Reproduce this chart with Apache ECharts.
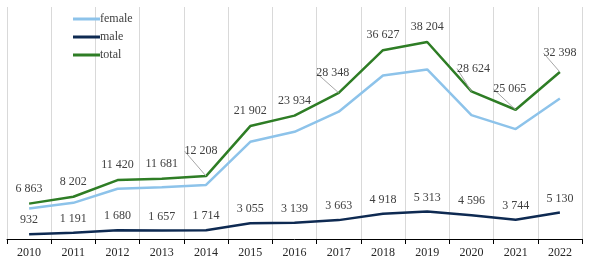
<!DOCTYPE html>
<html>
<head>
<meta charset="utf-8">
<script src="https://cdn.jsdelivr.net/npm/echarts@6/dist/echarts.min.js"></script>
<style>
  html, body { margin: 0; padding: 0; background: #ffffff; }
  #chart { width: 589px; height: 267px; }
</style>
</head>
<body>
<div id="chart"></div>
<script>
const years = ["2010", "2011", "2012", "2013", "2014", "2015", "2016", "2017", "2018", "2019", "2020", "2021", "2022"];
const female = [5931, 7011, 9740, 10024, 10494, 18847, 20795, 24685, 31709, 32891, 24028, 21321, 27268];
const male = [932, 1191, 1680, 1657, 1714, 3055, 3139, 3663, 4918, 5313, 4596, 3744, 5130];
const total = [6863, 8202, 11420, 11681, 12208, 21902, 23934, 28348, 36627, 38204, 28624, 25065, 32398];

// total labels pushed away from their point, drawn with a leader line: [dx, dy]
const totalShift = { 4: [-5, -10], 7: [-6, -5], 10: [2, -8], 11: [-6, -6], 12: [0, -4] };

const fmt = v => String(v).replace(/\B(?=(\d{3})+(?!\d))/g, " ");
const font = "'Liberation Serif', 'DejaVu Serif', serif";

const totalData = total.map((v, i) => (totalShift[i]
  ? { value: v, labelLine: { show: true } }
  : { value: v }));

const chart = echarts.init(document.getElementById("chart"));

chart.setOption({
  animation: false,
  textStyle: { fontFamily: font },
  legend: {
    orient: "vertical",
    left: 68,
    top: 8,
    itemWidth: 27,
    itemHeight: 3,
    itemGap: 6,
    icon: "rect",
    textStyle: { color: "#404040", fontSize: 12, fontFamily: font, padding: [0, 0, 0, -5] },
    data: ["female", "male", "total"]
  },
  grid: { left: 7, right: 7, top: 7, bottom: 28 },
  xAxis: {
    type: "category",
    data: years,
    boundaryGap: true,
    axisLine: { lineStyle: { color: "#000", width: 1 } },
    axisTick: { show: true, length: 5, lineStyle: { color: "#000" } },
    axisLabel: { color: "#262626", fontSize: 12, fontFamily: font, margin: 8 },
    splitLine: { show: true, lineStyle: { color: "#d9d9d9", width: 1 } }
  },
  yAxis: {
    type: "value",
    min: 0,
    max: 45000,
    show: false,
    splitLine: { show: false }
  },
  series: [
    {
      name: "female",
      type: "line",
      data: female,
      symbol: "none",
      lineStyle: { color: "#8dc3ea", width: 2.5 },
      itemStyle: { color: "#8dc3ea" }
    },
    {
      name: "male",
      type: "line",
      data: male,
      symbol: "circle",
      symbolSize: 0,
      showSymbol: true,
      lineStyle: { color: "#0e2a52", width: 2.5 },
      itemStyle: { color: "#0e2a52" },
      label: {
        show: true,
        position: "top",
        distance: 8,
        color: "#404040",
        fontSize: 12,
        fontFamily: font,
        formatter: p => fmt(p.value)
      }
    },
    {
      name: "total",
      type: "line",
      data: totalData,
      symbol: "circle",
      symbolSize: 0,
      showSymbol: true,
      lineStyle: { color: "#2e7d25", width: 2.5 },
      itemStyle: { color: "#2e7d25" },
      label: {
        show: true,
        position: "top",
        distance: 9,
        color: "#404040",
        fontSize: 12,
        fontFamily: font,
        formatter: p => fmt(p.value)
      },
      labelLine: { show: false, lineStyle: { color: "#a6a6a6", width: 1 } },
      labelLayout: p => {
        const s = totalShift[p.dataIndex];
        return s ? { dx: s[0], dy: s[1] } : {};
      }
    }
  ]
});
</script>
</body>
</html>
